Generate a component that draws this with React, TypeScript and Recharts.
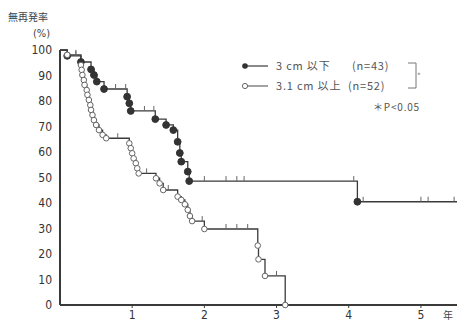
import { LineChart, Line, XAxis, YAxis } from 'recharts';

// 3cm以下 (n=43): event times (years) and survival (%) after each event
const smallTimes = [0.1, 0.29, 0.43, 0.47, 0.51, 0.61, 0.93, 0.96, 0.98, 1.32, 1.47, 1.57, 1.63, 1.66, 1.68, 1.77, 1.79, 4.12];
const smallSurv = [97.7, 95.3, 92.4, 90.2, 87.6, 84.7, 81.7, 79.1, 76.1, 72.9, 70.6, 68.6, 64.0, 59.6, 56.2, 52.3, 48.6, 40.5];
const smallCensor = [0.22, 0.77, 0.91, 1.17, 1.3, 2.0, 2.3, 2.45, 2.55, 4.07, 4.2, 5.0, 5.1, 5.46];

// 3.1cm以上 (n=52)
const largeTimes = [0.1, 0.29, 0.3, 0.31, 0.33, 0.34, 0.37, 0.38, 0.4, 0.42, 0.43, 0.45, 0.47, 0.5, 0.54, 0.59, 0.64, 0.96, 0.98, 1.0, 1.02, 1.05, 1.07, 1.09, 1.33, 1.38, 1.43, 1.63, 1.68, 1.73, 1.77, 1.8, 1.83, 2.0, 2.74, 2.75, 2.84, 3.12];
const largeSurv = [98.1, 94.1, 92.2, 90.2, 88.2, 86.3, 84.3, 82.4, 80.4, 78.4, 76.5, 74.5, 72.5, 70.6, 68.6, 66.7, 65.4, 63.4, 61.5, 59.5, 57.5, 55.6, 53.6, 51.6, 49.7, 47.7, 45.1, 42.5, 41.2, 39.5, 37.3, 34.9, 32.9, 29.8, 23.3, 17.9, 11.4, 0];
const largeCensor = [0.22, 0.8, 1.2, 1.5, 1.97, 2.3, 2.45, 2.6, 3.0];

const yTicks = [0, 10, 20, 30, 40, 50, 60, 70, 80, 90, 100];
const xTicks = [1, 2, 3, 4, 5];

type Pt = { t: number; s: number; kind: 'start' | 'event' | 'censor' | 'end' };

function buildCurve(times: number[], surv: number[], censors: number[], end: number | null): Pt[] {
  const pts: Pt[] = [{ t: 0, s: 100, kind: 'start' }];
  const items = [
    ...times.map((t, i) => ({ t, s: surv[i], kind: 'event' as const })),
    ...censors.map((t) => ({ t, s: NaN, kind: 'censor' as const })),
  ].sort((a, b) => a.t - b.t);
  let cur = 100;
  for (const it of items) {
    if (it.kind === 'event') cur = it.s;
    pts.push({ t: it.t, s: it.kind === 'event' ? it.s : cur, kind: it.kind });
  }
  if (end !== null) pts.push({ t: end, s: cur, kind: 'end' });
  return pts;
}

const smallData = buildCurve(smallTimes, smallSurv, smallCensor, 5.5);
const largeData = buildCurve(largeTimes, largeSurv, largeCensor, null);

const INK = '#3a3a3a';
const FONT = '"Liberation Sans Narrow", "DejaVu Sans Condensed", sans-serif';
const JP = '"Noto Sans CJK JP", sans-serif';

function makeDot(filled: boolean) {
  return (props: any) => {
    const { cx, cy, payload, index } = props;
    if (payload.kind === 'event') {
      return (
        <circle key={`d${index}`} cx={cx} cy={cy} r={filled ? 3.4 : 2.8}
          fill={filled ? '#333' : '#fff'} stroke={filled ? '#333' : '#666'} strokeWidth={1} />
      );
    }
    if (payload.kind === 'censor') {
      return <line key={`d${index}`} x1={cx} x2={cx} y1={cy - 5} y2={cy} stroke="#666" strokeWidth={1} />;
    }
    return <g key={`d${index}`} />;
  };
}

function LegendBox() {
  const row = { position: 'absolute' as const, top: 0, whiteSpace: 'pre' as const, letterSpacing: 0.8 };
  return (
    <div style={{ position: 'absolute', left: 240, top: 58, width: 210, height: 60, fontFamily: JP, fontSize: 11, color: '#555' }}>
      <svg width={210} height={60} style={{ position: 'absolute', left: 0, top: 0 }}>
        <line x1={5} x2={28} y1={8} y2={8} stroke={INK} strokeWidth={1.2} />
        <circle cx={5} cy={8} r={2.8} fill="#333" />
        <line x1={5} x2={28} y1={28} y2={28} stroke="#666" strokeWidth={1.2} />
        <circle cx={5} cy={28} r={2.6} fill="#fff" stroke="#666" />
        <path d="M168 5 H176 V30 H168" fill="none" stroke="#777" strokeWidth={1} />
        <text x={177} y={21} fontSize={8} fill="#777">*</text>
      </svg>
      <div style={{ ...row, left: 36, top: -1 }}>3 cm 以下</div>
      <div style={{ ...row, left: 112, top: -1 }}>(n=43)</div>
      <div style={{ ...row, left: 36, top: 19 }}>3.1 cm 以上</div>
      <div style={{ ...row, left: 108, top: 19 }}>(n=52)</div>
      <div style={{ ...row, left: 133, top: 41, fontSize: 10 }}>＊P&lt;0.05</div>
    </div>
  );
}

export default function App() {
  return (
    <div style={{ position: 'absolute', left: 0, top: 0, width: 457, height: 321, background: '#fff' }}>
      <LineChart width={457} height={321} margin={{ top: 50, right: 0, left: 0, bottom: 0 }}>
        <XAxis
          dataKey="t"
          type="number"
          domain={[0, 5.5]}
          ticks={xTicks}
          allowDuplicatedCategory={false}
          height={16}
          axisLine={{ stroke: INK, strokeWidth: 2 }}
          tickLine={{ stroke: INK }}
          tickSize={3}
          tick={{ fill: '#333', fontSize: 12, fontFamily: FONT }}
        />
        <YAxis
          type="number"
          domain={[0, 100]}
          ticks={yTicks}
          width={60}
          interval={0}
          axisLine={{ stroke: INK, strokeWidth: 2 }}
          tickLine={false}
          tick={{ fill: '#333', fontSize: 12, fontFamily: FONT }}
        />
        <Line data={smallData} dataKey="s" type="stepAfter" stroke={INK} strokeWidth={1.3}
          dot={makeDot(true)} activeDot={false} isAnimationActive={false} />
        <Line data={largeData} dataKey="s" type="stepAfter" stroke={INK} strokeWidth={1.3}
          dot={makeDot(false)} activeDot={false} isAnimationActive={false} />
      </LineChart>
      <div style={{ position: 'absolute', left: 8, top: 9, fontFamily: JP, fontSize: 10, color: '#444' }}>無再発率</div>
      <div style={{ position: 'absolute', left: 33, top: 27, fontFamily: FONT, fontSize: 11, color: '#444' }}>(%)</div>
      <div style={{ position: 'absolute', left: 443, top: 307, fontFamily: JP, fontSize: 10, color: '#444' }}>年</div>
      <LegendBox />
    </div>
  );
}
